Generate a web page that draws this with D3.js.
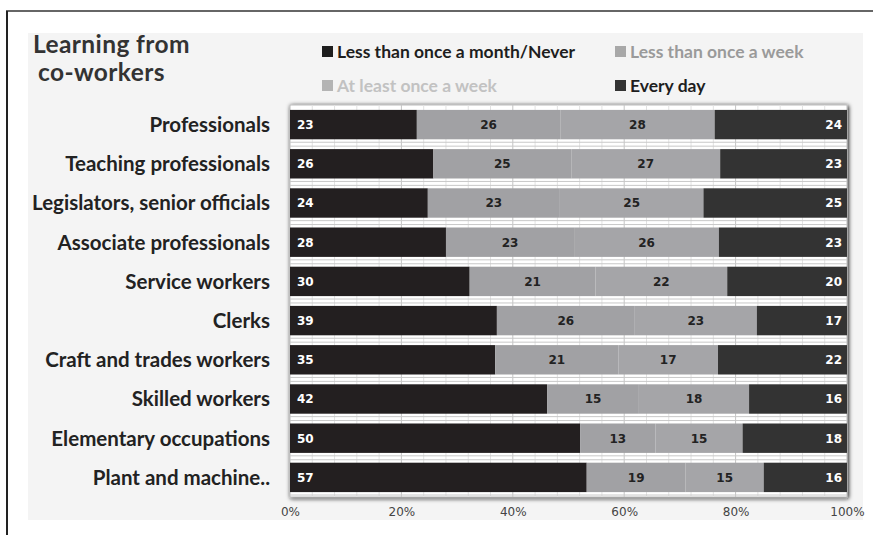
<!DOCTYPE html>
<html>
<head>
<meta charset="utf-8">
<script src="https://cdn.jsdelivr.net/npm/d3@7"></script>
<style>
  body { margin: 0; background: #fff; }
  svg { display: block; }
</style>
</head>
<body>
<div id="chart"></div>
<script>
// chart data
var categories = [
    "Professionals", "Teaching professionals", "Legislators, senior officials",
    "Associate professionals", "Service workers", "Clerks",
    "Craft and trades workers", "Skilled workers", "Elementary occupations",
    "Plant and machine.."
];
var seriesNames = ["Less than once a month/Never", "Less than once a week", "At least once a week", "Every day"];
var neverVals = [23, 26, 24, 28, 30, 39, 35, 42, 50, 57];
var lessWeekVals = [26, 25, 23, 23, 21, 26, 21, 15, 13, 19];
var weekVals = [28, 27, 25, 26, 22, 23, 17, 18, 15, 15];
var dailyVals = [24, 23, 25, 23, 20, 17, 22, 16, 18, 16];
var tickVals = [0, 0.2, 0.4, 0.6, 0.8, 1];

var width = 873;
var height = 535;
var barColors = ["#231f20", "#a1a1a4", "#a5a5a8", "#333333"];
var labelColors = ["#fff", "#222", "#222", "#fff"];

var rows = categories.map(function (c, i) {
    return { cat: c, s0: neverVals[i], s1: lessWeekVals[i], s2: weekVals[i], s3: dailyVals[i] };
});
var keys = ["s0", "s1", "s2", "s3"];
var stacked = d3.stack().keys(keys).offset(d3.stackOffsetExpand)(rows);

var x = d3.scaleLinear().domain([0, 1]).range([290, 847]);
var y = d3.scaleBand().domain(categories).range([105, 497]).paddingInner(0.25).paddingOuter(0.125);

var svg = d3.select("#chart").append("svg")
    .attr("width", width)
    .attr("height", height);

var defs = svg.append("defs");
var shadow = defs.append("filter").attr("id", "shadow")
    .attr("x", "-5%").attr("y", "-5%").attr("width", "110%").attr("height", "110%");
shadow.append("feGaussianBlur").attr("in", "SourceAlpha").attr("stdDeviation", 2);
shadow.append("feOffset").attr("dx", 1).attr("dy", 1).attr("result", "b");
var merge = shadow.append("feMerge");
merge.append("feMergeNode").attr("in", "b");
merge.append("feMergeNode").attr("in", "SourceGraphic");

// page frame lines
svg.append("line").attr("x1", 6).attr("x2", width).attr("y1", 11).attr("y2", 11)
    .attr("stroke", "#333").attr("stroke-width", 1.5);
svg.append("line").attr("x1", 7).attr("x2", 7).attr("y1", 11).attr("y2", height)
    .attr("stroke", "#222").attr("stroke-width", 2);

// light gray panel
svg.append("rect").attr("x", 28).attr("y", 33).attr("width", 835).attr("height", 487)
    .attr("fill", "#f4f4f4");

// plot area
svg.append("rect")
    .attr("x", x(0)).attr("y", 105)
    .attr("width", x(1) - x(0)).attr("height", 392)
    .attr("fill", "#fff").attr("stroke", "#bbb")
    .attr("filter", "url(#shadow)");

// vertical grid
var grid = svg.append("g");
grid.selectAll("line.minor")
    .data(d3.range(1, 25).map(function (i) { return i * 0.04; }))
    .enter().append("line")
    .attr("x1", function (d) { return x(d); })
    .attr("x2", function (d) { return x(d); })
    .attr("y1", 105).attr("y2", 497)
    .attr("stroke", function (d, i) { return (i + 1) % 5 === 0 ? "#c4c4c4" : "#e2e2e2"; })
    .attr("stroke-width", 1);

// horizontal double lines in the gaps
categories.forEach(function (c) {
    var top = y(c) + y.bandwidth();
    var gap = y.step() - y.bandwidth();
    [gap * 0.3, gap * 0.7].forEach(function (o) {
        grid.append("line")
            .attr("x1", x(0)).attr("x2", x(1))
            .attr("y1", top + o).attr("y2", top + o)
            .attr("stroke", "#c8c8c8").attr("stroke-width", 1);
    });
});

// bars
var layers = svg.selectAll("g.layer")
    .data(stacked)
    .enter().append("g")
    .attr("class", "layer")
    .attr("fill", function (d, i) { return barColors[i]; });

layers.selectAll("rect")
    .data(function (d) { return d; })
    .enter().append("rect")
    .attr("x", function (d) { return x(d[0]); })
    .attr("y", function (d) { return y(d.data.cat); })
    .attr("width", function (d) { return x(d[1]) - x(d[0]); })
    .attr("height", y.bandwidth());

// value labels
layers.each(function (layer, li) {
    d3.select(this).selectAll("text")
        .data(layer)
        .enter().append("text")
        .attr("x", function (d) {
            if (li === 0) return x(d[0]) + 7;
            if (li === 3) return x(d[1]) - 5;
            return (x(d[0]) + x(d[1])) / 2;
        })
        .attr("y", function (d) { return y(d.data.cat) + y.bandwidth() / 2; })
        .attr("dy", "0.36em")
        .attr("text-anchor", li === 0 ? "start" : (li === 3 ? "end" : "middle"))
        .attr("fill", labelColors[li])
        .style("font-family", "'DejaVu Sans', sans-serif")
        .style("font-weight", "bold")
        .style("font-size", "12px")
        .text(function (d) { return d.data[layer.key]; });
});

// category labels
svg.append("g").selectAll("text")
    .data(categories)
    .enter().append("text")
    .attr("x", 270)
    .attr("y", function (d) { return y(d) + y.bandwidth() / 2; })
    .attr("dy", "0.36em")
    .attr("text-anchor", "end")
    .attr("fill", "#222")
    .style("font-family", "Lato, sans-serif")
    .style("font-weight", "bold")
    .style("font-size", "20.5px")
    .text(function (d) { return d; });

// x axis
var xAxis = d3.axisBottom(x).tickValues(tickVals).tickFormat(d3.format(".0%")).tickSize(0);
var ax = svg.append("g").attr("transform", "translate(0,507)").call(xAxis);
ax.select(".domain").remove();
ax.selectAll("text")
    .attr("y", 0).attr("dy", "0.71em")
    .attr("fill", "#444")
    .style("font-family", "'DejaVu Sans', sans-serif")
    .style("font-size", "12px");

// title, two separate lines
var titleLines = [["Learning from", 33, 53], ["co-workers", 38, 81]];
svg.selectAll("text.title")
    .data(titleLines)
    .enter().append("text")
    .attr("class", "title")
    .attr("x", function (d) { return d[1]; })
    .attr("y", function (d) { return d[2]; })
    .attr("fill", "#333")
    .style("font-family", "Lato, sans-serif")
    .style("font-weight", "bold")
    .style("font-size", "24.5px")
    .style("letter-spacing", "0.4px")
    .text(function (d) { return d[0]; });

// legend
var legendPos = [[322, 52], [615, 52], [322, 86], [615, 86]];
var legendText = ["#1e1e1e", "#9a9a9a", "#c2c2c2", "#1e1e1e"];
var legendSq = ["#1e1e1e", "#a8a8a8", "#b4b4b4", "#333"];
var legend = svg.selectAll("g.legend")
    .data(seriesNames)
    .enter().append("g")
    .attr("class", "legend")
    .attr("transform", function (d, i) { return "translate(" + legendPos[i][0] + "," + legendPos[i][1] + ")"; });
legend.append("rect")
    .attr("x", 0).attr("y", -6).attr("width", 11).attr("height", 11)
    .attr("fill", function (d, i) { return legendSq[i]; });
legend.append("text")
    .attr("x", 15).attr("y", 0).attr("dy", "0.35em")
    .attr("fill", function (d, i) { return legendText[i]; })
    .style("font-family", "Lato, sans-serif")
    .style("font-weight", "bold")
    .style("font-size", "17.5px")
    .text(function (d) { return d; });
</script>
</body>
</html>
